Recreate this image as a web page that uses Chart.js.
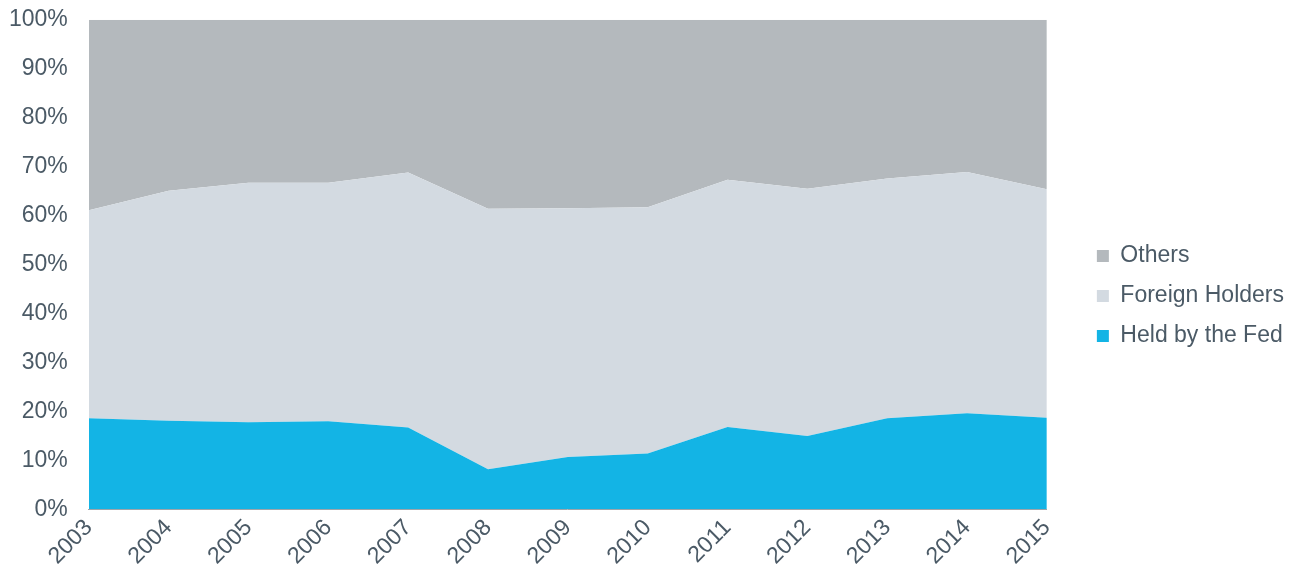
<!DOCTYPE html>
<html>
<head>
<meta charset="utf-8">
<script src="https://cdn.jsdelivr.net/npm/chart.js@4/dist/chart.umd.min.js"></script>
<style>
  html, body { margin: 0; padding: 0; background: #fff; }
  #wrap { width: 1294px; height: 575px; position: relative; }
</style>
</head>
<body>
<div id="wrap"><canvas id="c"></canvas></div>
<script>
const years = ['2003','2004','2005','2006','2007','2008','2009','2010','2011','2012','2013','2014','2015'];
const heldByFed = [18.6, 18.1, 17.8, 18.0, 16.7, 8.2, 10.7, 11.4, 16.8, 15.0, 18.6, 19.6, 18.7];
const foreignHolders = [42.5, 47.0, 48.9, 48.7, 52.1, 53.2, 50.8, 50.3, 50.5, 50.5, 49.0, 49.3, 46.7];
const others = [38.9, 34.9, 33.3, 33.3, 31.2, 38.6, 38.5, 38.3, 32.7, 34.5, 32.4, 31.1, 34.6];
const yTicks = [0, 10, 20, 30, 40, 50, 60, 70, 80, 90, 100];

const textColor = '#4b5a66';
const fontFamily = '"Liberation Sans", Arial, sans-serif';
const LEGEND_GAP = 33;

const legendGap = {
  id: 'legendGap',
  beforeUpdate(chart) {
    const lg = chart.legend;
    if (lg && !lg._gapPatched) {
      lg._gapPatched = true;
      const fit = lg.fit.bind(lg);
      lg.fit = function () { fit(); this.width += LEGEND_GAP; };
      const draw = lg.draw.bind(lg);
      lg.draw = function () { this.left += LEGEND_GAP; draw(); this.left -= LEGEND_GAP; };
    }
  }
};

new Chart(document.getElementById('c'), {
  type: 'line',
  data: {
    labels: years,
    datasets: [
      { label: 'Held by the Fed', data: heldByFed, backgroundColor: '#13b4e5', borderColor: '#13b4e5', fill: 'origin' },
      { label: 'Foreign Holders', data: foreignHolders, backgroundColor: '#d3dae1', borderColor: '#d3dae1', fill: '-1' },
      { label: 'Others', data: others, backgroundColor: '#b4b9bd', borderColor: '#b4b9bd', fill: '-1' }
    ]
  },
  plugins: [legendGap],
  options: {
    responsive: true,
    maintainAspectRatio: false,
    animation: false,
    elements: { point: { radius: 0 }, line: { borderWidth: 0, tension: 0 } },
    layout: { padding: { top: 17, right: 0, left: 3, bottom: 0 } },
    plugins: {
      tooltip: { enabled: false },
      legend: {
        position: 'right',
        reverse: true,
        labels: {
          boxWidth: 12, boxHeight: 12, padding: 17,
          color: textColor,
          font: { family: fontFamily, size: 23 }
        }
      }
    },
    scales: {
      x: {
        offset: false,
        grid: { display: true, drawOnChartArea: false, drawTicks: false },
        border: { display: true, color: '#a0a4a8', width: 1 },
        ticks: {
          color: textColor, font: { family: fontFamily, size: 23 },
          maxRotation: 45, minRotation: 45, padding: 5, autoSkip: false
        }
      },
      y: {
        stacked: true, min: 0, max: 100,
        afterBuildTicks: (axis) => { axis.ticks = yTicks.map(v => ({ value: v })); },
        grid: { display: true, drawOnChartArea: false, drawTicks: true, tickLength: 15, color: 'rgba(0,0,0,0)' },
        border: { display: false },
        ticks: {
          color: textColor, font: { family: fontFamily, size: 23 },
          padding: 6,
          callback: (v) => v + '%'
        }
      }
    }
  }
});
</script>
</body>
</html>
